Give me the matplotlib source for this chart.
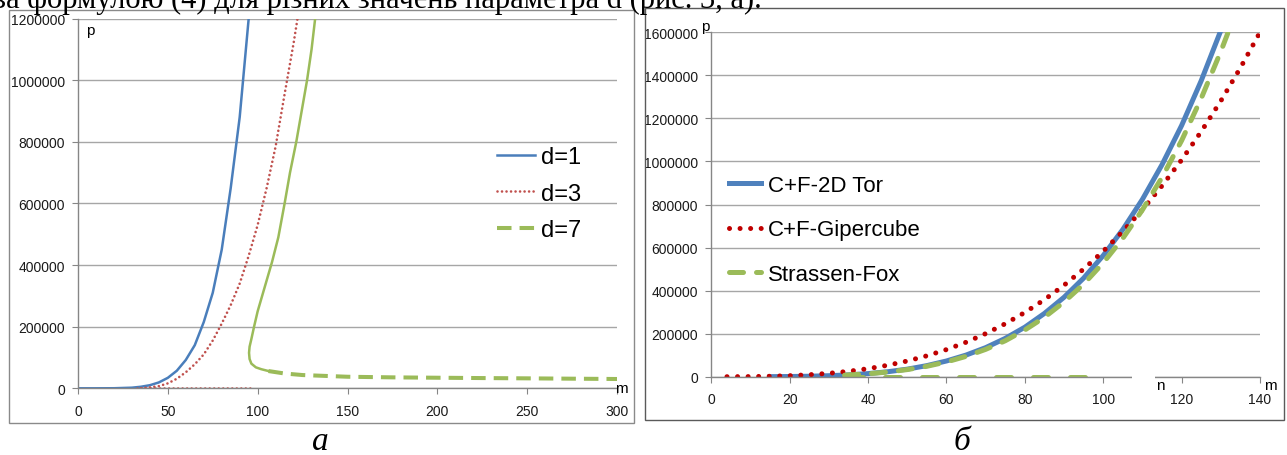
import matplotlib.pyplot as plt
from matplotlib.patches import Rectangle

plt.rcParams["font.family"] = ["Liberation Sans", "DejaVu Sans"]

W, H = 1287, 456

# ---- chart (а): p(m) for d = 1, 3, 7 ----
m_d1 = [0, 10, 20, 30, 35, 40, 45, 50, 55, 60, 65, 70, 75, 80, 85, 90, 95, 97]
p_d1 = [0, 0, 200, 2000, 5000, 10000, 19000, 34000, 57000, 92000, 140000,
        215000, 310000, 450000, 650000, 880000, 1200000, 1350000]

m_d3 = [35, 40, 45, 50, 55, 60, 65, 70, 75, 80, 85, 90, 95, 100, 105, 110,
        115, 120, 123]
p_d3 = [0, 3000, 7000, 16000, 31000, 52000, 78000, 110000, 155000, 210000,
        270000, 340000, 430000, 530000, 650000, 785000, 955000, 1120000, 1230000]
m_d3_zero = [33, 98]
p_d3_zero = [0, 0]

m_d7_upper = [106, 102, 99, 96.5, 95.5, 95.2, 95.5, 96.5, 98, 100, 104, 108,
              111.5, 115, 118, 121.5, 124.5, 127.5, 130, 132]
p_d7_upper = [56000, 62000, 68000, 80000, 95000, 115000, 135000, 160000,
              200000, 250000, 330000, 410000, 490000, 600000, 700000, 800000,
              900000, 1000000, 1100000, 1200000]
m_d7 = [106, 115, 125, 150, 175, 200, 225, 250, 275, 300]
p_d7 = [56000, 48000, 43000, 37500, 35500, 34300, 33200, 32300, 31200, 30200]

xticks_a = [0, 50, 100, 150, 200, 250, 300]
yticks_a = [0, 200000, 400000, 600000, 800000, 1000000, 1200000]

# ---- chart (б): C+F and Strassen-Fox ----
m_tor = [15, 20, 25, 30, 35, 40, 45, 50, 55, 60, 65, 70, 75, 80, 85, 90, 95,
         100, 105, 110, 115, 120, 125, 130]
p_tor = [300, 900, 2200, 4600, 8500, 14400, 23000, 35000, 51500, 73000,
         100500, 135000, 178000, 230000, 294000, 369000, 458000, 563000,
         684000, 824000, 985000, 1167000, 1375000, 1608000]

m_hyp = [4, 10, 15, 20, 25, 30, 35, 40, 45, 50, 55, 60, 65, 70, 75, 80, 85,
         90, 95, 100, 105, 110, 115, 120, 125, 130, 135, 140]
p_hyp = [0, 600, 2000, 4700, 9100, 15700, 25000, 37300, 53100, 72900, 97000,
         126000, 160000, 200000, 246000, 298500, 358000, 425000, 500000,
         583000, 675000, 776000, 887000, 1007000, 1139000, 1281000, 1435000,
         1600000]

m_fox = [34, 40, 45, 50, 55, 60, 65, 70, 75, 80, 85, 90, 95, 100, 105, 110,
         115, 120, 125, 130, 132]
p_fox = [7000, 13500, 21700, 33100, 48400, 68600, 94500, 127000, 167000,
         217000, 276000, 347000, 430000, 529000, 643000, 775000, 926000,
         1097000, 1293000, 1511000, 1606000]
m_fox_zero = [35, 98]
p_fox_zero = [0, 0]

xticks_b = [0, 20, 40, 60, 80, 100, 120, 140]
yticks_b = [0, 200000, 400000, 600000, 800000, 1000000, 1200000, 1400000, 1600000]

BLUE = "#4a7ebb"
RED_A = "#c0504d"
RED_B = "#c00000"
GREEN = "#9bbb59"


def style_axes(ax):
    for side in ("top", "right"):
        ax.spines[side].set_visible(False)
    for side in ("left", "bottom"):
        ax.spines[side].set_color("#868686")
        ax.spines[side].set_linewidth(1.0)
    ax.yaxis.grid(True, color="#a6a6a6", lw=1.0)
    ax.set_axisbelow(True)
    ax.tick_params(direction="out", length=4, width=0.8, color="#868686",
                   labelsize=10, labelcolor="#1a1a1a", pad=5.5)
    ax.tick_params(axis="x", pad=7)


fig = plt.figure(figsize=(W / 100, H / 100), dpi=100)

# text line cut off at the top of the page
fig.text(-6 / W, 1 - 8 / H,
         "за формулою (4) для різних значень параметра d (рис. 3, а).",
         family="Liberation Serif", fontsize=22, va="baseline", ha="left")

# panel frames
fig.add_artist(Rectangle((9 / W, 1 - 424 / H), 625 / W, 413 / H,
                         transform=fig.transFigure, fill=False,
                         edgecolor="#8a8a8a", lw=1.0))
fig.add_artist(Rectangle((645 / W, 1 - 421 / H), 639 / W, 412 / H,
                         transform=fig.transFigure, fill=False,
                         edgecolor="#5a5a5a", lw=1.0))

# ---- (а) ----
ax1 = fig.add_axes([78 / W, 1 - 389.3 / H, 539 / W, 369.8 / H])
style_axes(ax1)
ax1.plot(m_d1, p_d1, color=BLUE, lw=1.8, label="d=1")
ax1.plot(m_d3, p_d3, color=RED_A, lw=1.9, linestyle=(0, (0.01, 1.7)),
         dash_capstyle="round", label="d=3")
ax1.plot(m_d3_zero, p_d3_zero, color=RED_A, lw=1.9, linestyle=(0, (0.01, 1.7)),
         dash_capstyle="round")
ax1.plot(m_d7_upper, p_d7_upper, color=GREEN, lw=1.8)
ax1.plot(m_d7, p_d7, color=GREEN, lw=2.9, linestyle=(0, (3.6, 2.0)), label="d=7")
ax1.set_xlim(0, 300)
ax1.set_ylim(0, 1200000)
ax1.set_xticks(xticks_a)
ax1.set_yticks(yticks_a)
ax1.set_yticklabels([str(v) for v in yticks_a])
ax1.text(0.015, 0.969, "p", transform=ax1.transAxes, fontsize=11, va="center")
ax1.text(1.009, 0.0, "m", transform=ax1.transAxes, fontsize=11, va="center",
         ha="center", clip_on=False)
ax1.legend(loc="upper left", bbox_to_anchor=(497 / W, 1 - 147 / H),
           bbox_transform=fig.transFigure, frameon=False, fontsize=17,
           handlelength=1.6, handletextpad=0.25, labelspacing=0.62,
           borderpad=0, borderaxespad=0)

# ---- (б) ----
ax2 = fig.add_axes([711.3 / W, 1 - 377.7 / H, 548.7 / W, 344.4 / H])
style_axes(ax2)
ax2.plot(m_tor, p_tor, color="#4f81bd", lw=3.6, label="C+F-2D Tor")
ax2.plot(m_hyp, p_hyp, color=RED_B, lw=3.6, linestyle=(0, (0.01, 2.1)),
         dash_capstyle="round", label="C+F-Gipercube")
ax2.plot(m_fox, p_fox, color=GREEN, lw=3.6, linestyle=(0, (2.8, 2.6)),
         dash_capstyle="round", label="Strassen-Fox")
ax2.plot(m_fox_zero, p_fox_zero, color=GREEN, lw=3.6, linestyle=(0, (3.0, 4.4)),
         dash_capstyle="round")
ax2.set_xlim(0, 140)
ax2.set_ylim(0, 1600000)
ax2.set_xticks(xticks_b)
ax2.set_yticks(yticks_b)
ax2.set_yticklabels([str(v) for v in yticks_b])
ax2.text(-0.0115, 1.018, "p", transform=ax2.transAxes, fontsize=11, va="center",
         ha="center", clip_on=False)
ax2.text(1.018, -0.024, "m", transform=ax2.transAxes, fontsize=11, va="center",
         ha="center", clip_on=False)
# white patch over the axis with the leftover of an old label
ax2.add_patch(Rectangle((107.3, -45000), 5.9, 65000, facecolor="white",
                        edgecolor="none", clip_on=False, zorder=5))
ax2.text(0.818, -0.024, "n", transform=ax2.transAxes, fontsize=11, va="center",
         ha="center", clip_on=False, zorder=6)
ax2.legend(loc="upper left", bbox_to_anchor=(729 / W, 1 - 176 / H),
           bbox_transform=fig.transFigure, frameon=False, fontsize=16,
           handlelength=1.45, handletextpad=0.3, labelspacing=1.05,
           borderpad=0, borderaxespad=0)

# captions
fig.text(320 / W, 1 - 450 / H, "а", family="Liberation Serif", style="italic",
         fontsize=24, ha="center", va="baseline")
fig.text(962 / W, 1 - 450 / H, "б", family="Liberation Serif", style="italic",
         fontsize=24, ha="center", va="baseline")

fig.savefig("out.png", dpi=100)
